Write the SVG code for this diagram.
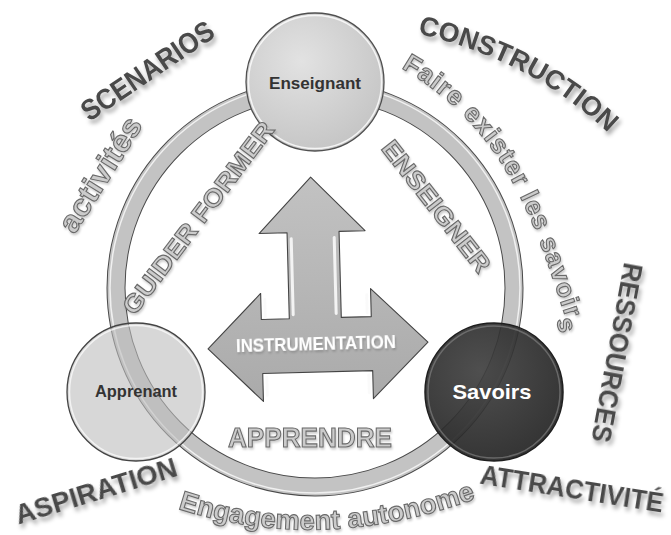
<svg xmlns="http://www.w3.org/2000/svg" width="671" height="535" viewBox="0 0 671 535">
<defs>
<style>
.lbl{font-family:"Liberation Sans","DejaVu Sans",sans-serif;font-weight:bold;fill:#4a4a4a}
.out{font-family:"Liberation Sans","DejaVu Sans",sans-serif;font-weight:bold;fill:#cbcbcb;stroke:#6a6a6a;stroke-width:1.1}
.nd{font-family:"Liberation Sans","DejaVu Sans",sans-serif;font-weight:bold;text-anchor:middle}
</style>
<filter id="sh" x="-10%" y="-10%" width="120%" height="120%">
<feGaussianBlur in="SourceAlpha" stdDeviation="2.2"/>
<feOffset dx="2" dy="4" result="b"/>
<feFlood flood-color="#000" flood-opacity="0.35"/>
<feComposite in2="b" operator="in"/>
<feMerge><feMergeNode/><feMergeNode in="SourceGraphic"/></feMerge>
</filter>
<filter id="sh2" x="-10%" y="-10%" width="120%" height="120%">
<feGaussianBlur in="SourceAlpha" stdDeviation="1.2"/>
<feOffset dx="1" dy="2" result="b"/>
<feFlood flood-color="#000" flood-opacity="0.2"/>
<feComposite in2="b" operator="in"/>
<feMerge><feMergeNode/><feMergeNode in="SourceGraphic"/></feMerge>
</filter>
<radialGradient id="gLight" cx="40%" cy="35%" r="70%">
<stop offset="0" stop-color="#e2e2e2"/><stop offset="1" stop-color="#c4c4c4"/>
</radialGradient>
<radialGradient id="gDark" cx="40%" cy="35%" r="70%">
<stop offset="0" stop-color="#404040"/><stop offset="1" stop-color="#222"/>
</radialGradient>
<linearGradient id="gArrow" x1="0" y1="0" x2="0" y2="1">
<stop offset="0" stop-color="#c2c2c2"/><stop offset="1" stop-color="#aaa"/>
</linearGradient>
<path id="pCons" d="M419,34 Q531,60 607,132"/>
<path id="pFaire" d="M401,68 C505,128 533,217 567,322"/>
<path id="pEng" d="M176,508 Q320,556 478,498"/>
</defs>
<rect width="671" height="535" fill="#fff"/>

<g id="connectors">
<circle cx="315" cy="288" r="199" fill="none" stroke="#4a4a4a" stroke-width="19"/>
<circle cx="315" cy="288" r="199" fill="none" stroke="#c3c3c3" stroke-width="17"/>
<circle cx="315" cy="288" r="205" fill="none" stroke="#f0f0f0" stroke-width="1.5"/>
</g>

<g id="node-instrumentation" transform="rotate(-1.5 318 345)">
<polygon points="315,177 368,232 342,232 342,318 372,318 372,290 428,345 372,400 372,372 262,372 262,400 208,346 262,292 262,318 290,318 290,232 262,232" fill="url(#gArrow)" stroke="#444" stroke-width="1.1" stroke-linejoin="round"/>
<g stroke="#fafafa" stroke-width="3" stroke-linecap="round" opacity="0.9">
<line x1="294" y1="238" x2="294" y2="314"/>
<line x1="337" y1="238" x2="337" y2="314"/>
<line x1="266" y1="298" x2="266" y2="316"/>
<line x1="266" y1="376" x2="266" y2="394"/>
<line x1="368" y1="296" x2="368" y2="314"/>
<line x1="368" y1="376" x2="368" y2="394"/>
</g>
<text class="nd" x="316" y="350" font-size="19" fill="#fff" textLength="160" lengthAdjust="spacingAndGlyphs" filter="url(#sh2)">INSTRUMENTATION</text>
</g>

<g id="node-apprenant">
<circle cx="136" cy="392" r="69" fill="#bdbdbd" fill-opacity="0.6" stroke="#444" stroke-width="1.3"/>
<circle cx="136" cy="392" r="66.5" fill="none" stroke="#fff" stroke-width="1.5" opacity="0.7"/>
<text class="nd" x="136" y="397" font-size="16" fill="#333" textLength="82" lengthAdjust="spacingAndGlyphs">Apprenant</text>
</g>

<g id="node-savoirs">
<circle cx="494" cy="392" r="69" fill="url(#gDark)" fill-opacity="0.92" stroke="#1e1e1e" stroke-width="1.5"/>
<circle cx="494" cy="392" r="66" fill="none" stroke="#888" stroke-width="1.5" opacity="0.6"/>
<text class="nd" x="492" y="399" font-size="21" fill="#fff" textLength="79" lengthAdjust="spacingAndGlyphs">Savoirs</text>
</g>

<g id="node-enseignant">
<circle cx="315" cy="82" r="69" fill="url(#gLight)" stroke="#505050" stroke-width="1.3"/>
<circle cx="315" cy="82" r="66.5" fill="none" stroke="#fff" stroke-width="1.5" opacity="0.8"/>
<text class="nd" x="315" y="89" font-size="17" fill="#333" textLength="92" lengthAdjust="spacingAndGlyphs">Enseignant</text>
</g>

<g id="outline-labels" filter="url(#sh2)">
<text class="out" x="109" y="180" font-size="31" text-anchor="middle" textLength="130" lengthAdjust="spacingAndGlyphs" transform="rotate(-58 109 180)">activités</text>
<text class="out" x="205" y="223" font-size="25" text-anchor="middle" textLength="234" lengthAdjust="spacingAndGlyphs" transform="rotate(-53 205 223)">GUIDER FORMER</text>
<text class="out" x="429.5" y="211.6" font-size="25" text-anchor="middle" textLength="160" lengthAdjust="spacingAndGlyphs" transform="rotate(52 429.5 211.6)">ENSEIGNER</text>
<text class="out" x="310" y="447" font-size="28" text-anchor="middle" textLength="164" lengthAdjust="spacingAndGlyphs">APPRENDRE</text>
<text class="out" font-size="26" letter-spacing="1.2"><textPath href="#pFaire">Faire exister les savoir</textPath></text>
<text class="out" x="558" y="327" font-size="26" text-anchor="middle" transform="rotate(75 558 327)">s</text>
<text class="out" font-size="27.5" text-anchor="middle"><textPath href="#pEng" startOffset="50%">Engagement autonome</textPath></text>
</g>

<g id="dark-labels" filter="url(#sh)">
<text class="lbl" x="153" y="79" font-size="29" text-anchor="middle" textLength="154" lengthAdjust="spacingAndGlyphs" transform="rotate(-34 153 79)">SCENARIOS</text>
<text class="lbl" font-size="27" text-anchor="middle"><textPath href="#pCons" startOffset="50%">CONSTRUCTION</textPath></text>
<text class="lbl" x="607.7" y="351" font-size="27" text-anchor="middle" textLength="182" lengthAdjust="spacingAndGlyphs" transform="rotate(100.5 607.7 351)">RESSOURCES</text>
<text class="lbl" x="570.5" y="498" font-size="27" text-anchor="middle" textLength="185" lengthAdjust="spacingAndGlyphs" transform="rotate(9 570.5 498)">ATTRACTIVITÉ</text>
<text class="lbl" x="98.7" y="500" font-size="28" text-anchor="middle" textLength="168" lengthAdjust="spacingAndGlyphs" transform="rotate(-17 98.7 500)">ASPIRATION</text>
</g>
</svg>
